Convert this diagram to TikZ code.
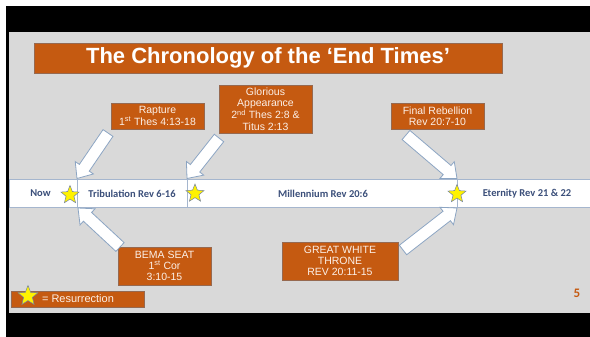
\documentclass[tikz,border=0pt]{standalone}
\usepackage{fontspec}
\setmainfont{Liberation Sans}
\newfontfamily\calibrifont{Carlito}
\usetikzlibrary{calc,shapes.geometric}

\definecolor{slideorange}{RGB}{197,90,17}
\definecolor{boxedge}{RGB}{150,105,80}
\definecolor{slidegray}{RGB}{217,217,217}
\definecolor{boxtext}{RGB}{252,240,232}
\definecolor{navytext}{RGB}{59,79,122}
\definecolor{bandline}{RGB}{165,182,206}
\definecolor{arrowline}{RGB}{140,165,195}
\definecolor{starline}{RGB}{115,130,160}

\tikzset{
  obox/.style={draw=boxedge, line width=0.5pt, fill=slideorange, text=boxtext,
    align=center, inner sep=0pt, font=\fontsize{10.5}{11.3}\selectfont},
  blockarr/.style={fill=white, draw=arrowline, line width=0.8pt, line join=miter},
  bandtext/.style={text=navytext, font=\calibrifont\bfseries\fontsize{10.5}{12}\selectfont, inner sep=0pt},
  ystar/.style={star, star points=5, star point ratio=2.3, minimum size=19pt,
    inner sep=0pt, fill=yellow, draw=starline, line width=0.5pt}
}

\newcommand{\blockarrow}[2]{%
  \coordinate (hb) at ($(#2)!13pt!(#1)$);
  \filldraw[blockarr] ($(#1)!6pt!90:(#2)$) -- ($(hb)!6pt!90:(#2)$) -- ($(hb)!11pt!90:(#2)$)
    -- (#2) -- ($(hb)!11pt!-90:(#2)$) -- ($(hb)!6pt!-90:(#2)$) -- ($(#1)!6pt!-90:(#2)$) -- cycle;
}

\begin{document}
\begin{tikzpicture}[x=1pt,y=-1pt]
\useasboundingbox (0,0) rectangle (590,337);
% background
\fill[white] (0,0) rectangle (590,337);
\fill[black] (6,6) rectangle (590,337);
\fill[slidegray] (9,32) rectangle (590,313);

% timeline band
\draw[bandline, fill=white, line width=0.7pt] (9,179) rectangle (590,207);
\draw[bandline, line width=0.7pt] (77,179) -- (77,207);
\draw[bandline, line width=0.7pt] (187,179) -- (187,207);
\draw[bandline, line width=0.7pt] (457,179) -- (457,207);

\node[bandtext] (now) at (40.5,193.5) {Now};
\node[bandtext] (trib) at (132,193.5) {Tribulation Rev 6-16};
\node[bandtext] (mill) at (323,193.5) {Millennium Rev 20:6};
\node[bandtext] (eter) at (527,193.5) {Eternity Rev 21 \& 22};

% title
\node[draw=boxedge, line width=0.5pt, fill=slideorange, text=white, minimum width=468pt,
  minimum height=30pt, inner sep=0pt, font=\bfseries\fontsize{22}{24}\selectfont] (title) at (268,58)
  {The Chronology of the ‘End Times’};

% boxes
\node[obox, minimum width=93pt, minimum height=26pt] (rapture) at (157.5,116)
  {Rapture\\1\textsuperscript{st} Thes 4:13-18};
\node[obox, minimum width=93pt, minimum height=48pt] (glorious) at (265.5,109)
  {Glorious\\Appearance\\2\textsuperscript{nd} Thes 2:8 \&\\Titus 2:13};
\node[obox, minimum width=93pt, minimum height=26pt] (final) at (437.5,116)
  {Final Rebellion\\Rev 20:7-10};
\node[obox, minimum width=93pt, minimum height=38pt] (bema) at (164.5,266)
  {BEMA SEAT\\1\textsuperscript{st} Cor\\3:10-15};
\node[obox, minimum width=116pt, minimum height=38pt] (gwt) at (340,261)
  {GREAT WHITE\\THRONE\\REV 20:11-15};

% arrow endpoints
\coordinate (rapT) at (108,133);   \coordinate (rapH) at (77,178.5);
\coordinate (gloT) at (219,138);   \coordinate (gloH) at (187,178.5);
\coordinate (finT) at (406,135);   \coordinate (finH) at (457,178.5);
\coordinate (bemT) at (120,247);   \coordinate (bemH) at (78,208);
\coordinate (gwtT) at (403,250);   \coordinate (gwtH) at (457,208);

\blockarrow{rapT}{rapH}
\blockarrow{gloT}{gloH}
\blockarrow{finT}{finH}
\blockarrow{bemT}{bemH}
\blockarrow{gwtT}{gwtH}

% stars
\node[ystar] (s1) at (70,195) {};
\node[ystar] (s2) at (195,193.5) {};
\node[ystar] (s3) at (457,194) {};

% legend
\node[draw=boxedge, line width=0.5pt, fill=slideorange, minimum width=133pt, minimum height=16pt,
  inner sep=0pt] (legend) at (77.5,299) {};
\node[text=boxtext, font=\fontsize{11}{12}\selectfont, inner sep=0pt] (legtext) at (78,299) {= Resurrection};
\node[ystar, minimum size=21pt] (ls) at (28,296) {};

% page number
\node[text=slideorange, font=\calibrifont\bfseries\fontsize{13}{14}\selectfont, inner sep=0pt] (pnum) at (577,293) {5};
\end{tikzpicture}
\end{document}
